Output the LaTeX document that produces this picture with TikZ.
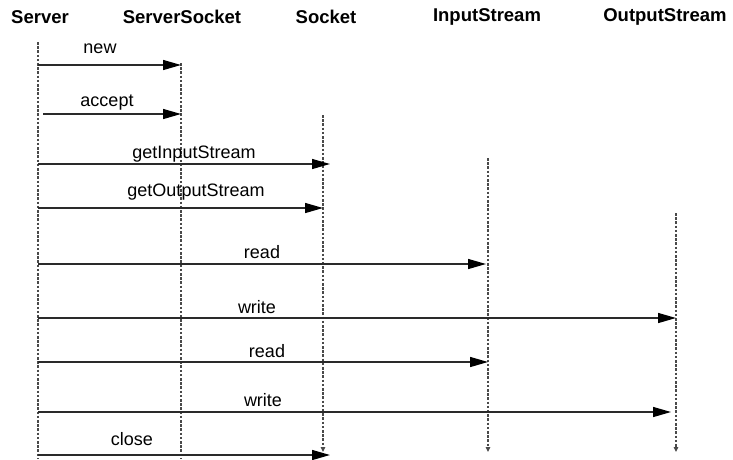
\documentclass[tikz,border=0pt]{standalone}
\usepackage{fontspec}
\setmainfont{Liberation Sans}
\usetikzlibrary{arrows.meta}
\definecolor{lifegray}{HTML}{4A4A4A}
\definecolor{msgcol}{HTML}{2A2A2A}
\begin{document}
\begin{tikzpicture}[x=1pt,y=-1pt,
  header/.style={font=\fontsize{18.5}{20}\selectfont\bfseries, inner sep=0pt, anchor=center},
  lbl/.style={font=\fontsize{18}{20}\selectfont, inner sep=0pt, anchor=center},
  lifeline/.style={draw=lifegray, line width=1.1pt, dash pattern=on 2.6pt off 1.6pt},
  lifeend/.style={lifeline, -{Triangle[length=5pt,width=4.5pt]}},
  msg/.style={draw=msgcol, line width=1.4pt, -{Triangle[length=18pt,width=10pt,fill=black,color=black]}}
  ]
\useasboundingbox (0,0) rectangle (733,459);
% headers
\node[header] (hServer) at (40,17) {Server};
\node[header] (hSS) at (182,17) {ServerSocket};
\node[header] (hSock) at (326,17) {Socket};
\node[header] (hIn) at (487,17) {InputStream};
\node[header] (hOut) at (665,17) {OutputStream};
% lifeline coordinates
\coordinate (srvT) at (38,42);   \coordinate (srvB) at (38,459);
\coordinate (ssT) at (181,63);   \coordinate (ssB) at (181,459);
\coordinate (skT) at (323,115);  \coordinate (skB) at (323,452);
\coordinate (inT) at (488,158);  \coordinate (inB) at (488,452);
\coordinate (outT) at (676,213); \coordinate (outB) at (676,452);
\draw[lifeline] (srvT) -- (srvB);
\draw[lifeline] (ssT) -- (ssB);
\draw[lifeend] (skT) -- (skB);
\draw[lifeend] (inT) -- (inB);
\draw[lifeend] (outT) -- (outB);
% messages
\coordinate (a1) at (38,65);  \coordinate (b1) at (181,65);
\coordinate (a2) at (43,114); \coordinate (b2) at (181,114);
\coordinate (a3) at (38,164); \coordinate (b3) at (330,164);
\coordinate (a4) at (38,208); \coordinate (b4) at (323,208);
\coordinate (a5) at (38,264); \coordinate (b5) at (486,264);
\coordinate (a6) at (38,318); \coordinate (b6) at (676,318);
\coordinate (a7) at (38,362); \coordinate (b7) at (488,362);
\coordinate (a8) at (38,412); \coordinate (b8) at (671,412);
\coordinate (a9) at (38,455); \coordinate (b9) at (330,455);
\draw[msg] (a1) -- (b1);
\draw[msg] (a2) -- (b2);
\draw[msg] (a3) -- (b3);
\draw[msg] (a4) -- (b4);
\draw[msg] (a5) -- (b5);
\draw[msg] (a6) -- (b6);
\draw[msg] (a7) -- (b7);
\draw[msg] (a8) -- (b8);
\draw[msg] (a9) -- (b9);
% labels
\node[lbl] (l1) at (100,49) {new};
\node[lbl] (l2) at (107,103) {accept};
\node[lbl] (l3) at (194,154) {getInputStream};
\node[lbl] (l4) at (196,192) {getOutputStream};
\node[lbl] (l5) at (262,252) {read};
\node[lbl] (l6) at (257,307) {write};
\node[lbl] (l7) at (267,351) {read};
\node[lbl] (l8) at (263,400) {write};
\node[lbl] (l9) at (132,439) {close};
\end{tikzpicture}
\end{document}
